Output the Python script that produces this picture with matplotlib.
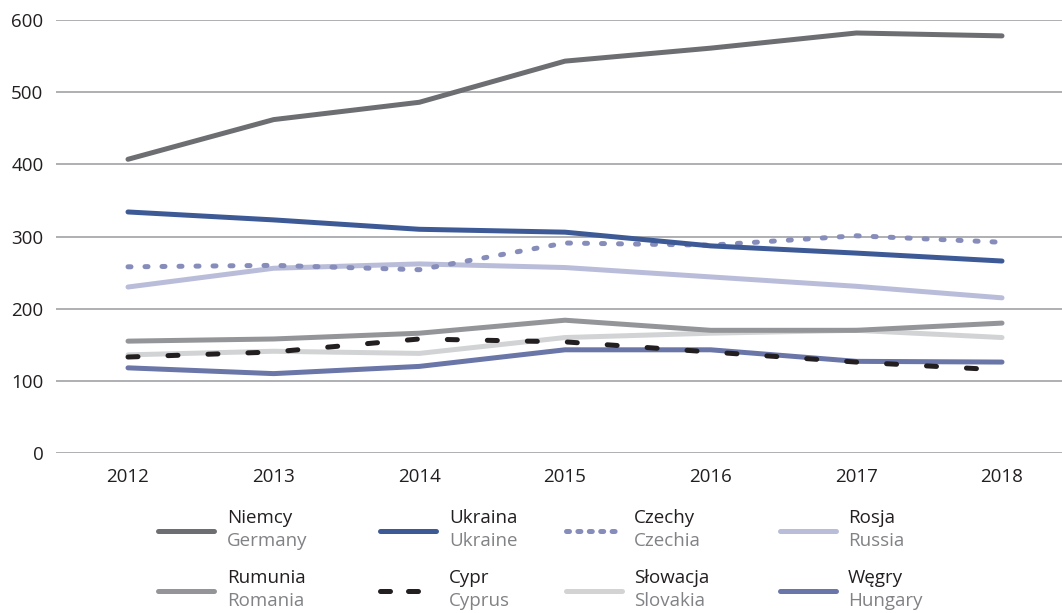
import matplotlib
matplotlib.use('Agg')
import matplotlib.pyplot as plt
from matplotlib.lines import Line2D

plt.rcParams['font.family'] = ['Open Sans', 'DejaVu Sans']

years = [2012, 2013, 2014, 2015, 2016, 2017, 2018]

germany = [407, 462, 486, 543, 561, 582, 578]
ukraine = [334, 323, 310, 306, 287, 277, 266]
czechia = [258, 260, 254, 291, 288, 301, 292]
russia = [230, 256, 262, 257, 244, 231, 215]
romania = [155, 158, 166, 184, 170, 170, 180]
cyprus = [133, 140, 158, 154, 140, 126, 115]
slovakia = [136, 141, 138, 160, 166, 170, 160]
hungary = [118, 110, 120, 143, 143, 127, 126]

labels_pl = ['Niemcy', 'Ukraina', 'Czechy', 'Rosja', 'Rumunia', 'Cypr', 'Słowacja', 'Węgry']
labels_en = ['Germany', 'Ukraine', 'Czechia', 'Russia', 'Romania', 'Cyprus', 'Slovakia', 'Hungary']
yticks = [0, 100, 200, 300, 400, 500, 600]

series = [germany, ukraine, czechia, russia, romania, cyprus, slovakia, hungary]
colors = ['#6d6e71', '#3d5a96', '#878dba', '#b9bdd9', '#939598', '#231f20', '#d1d3d4', '#6a75a8']
dashes = [None, None, (0.6, 2.8), None, None, (2.0, 6.0), None, None]
zorders = [5, 5, 4, 3, 3, 6, 2, 4]

fig = plt.figure(figsize=(10.62, 6.13), dpi=100)
ax = fig.add_axes([56 / 1062, 1 - 453 / 613, 1 - 56 / 1062, (453 - 20) / 613])

lw = 3.6
for vals, c, d, z in zip(series, colors, dashes, zorders):
    ln, = ax.plot(years, vals, color=c, lw=lw, solid_capstyle='round',
                  dash_capstyle='round', solid_joinstyle='round', zorder=z)
    if d is not None:
        ln.set_dashes(d)

ax.set_xlim(2012 - 72 / 145.67, 2018 + 60 / 145.67)
ax.set_ylim(0, 600)
ax.set_yticks(yticks)
ax.set_xticks(years)
ax.yaxis.grid(True, color='#a7a9ac', lw=1.3)
ax.set_axisbelow(True)
for s in ax.spines.values():
    s.set_visible(False)
ax.tick_params(length=0, labelsize=13.5, colors='#231f20')
ax.tick_params(axis='y', pad=9)
ax.tick_params(axis='x', pad=11)

# legend drawn by hand: 4 columns x 2 rows, two-line labels
col_line_x = [158, 380, 566, 780]
col_text_x = [227, 449, 634, 848]
row_line_y = [531, 591]
row_text_y = [518, 578]
W, H = 1062, 613
for i in range(8):
    r, c = divmod(i, 4)
    x0 = col_line_x[c]
    y = 1 - row_line_y[r] / H
    ln = Line2D([x0 / W, (x0 + 56) / W], [y, y], transform=fig.transFigure,
                color=colors[i], lw=lw, solid_capstyle='round', dash_capstyle='round')
    if dashes[i] is not None:
        ln.set_dashes((dashes[i][0], dashes[i][1] * 0.6))
    fig.add_artist(ln)
    fig.text(col_text_x[c] / W, 1 - row_text_y[r] / H, labels_pl[i],
             fontsize=13.5, color='#231f20', va='center', ha='left')
    fig.text(col_text_x[c] / W, 1 - (row_text_y[r] + 23) / H, labels_en[i],
             fontsize=13.5, color='#808285', va='center', ha='left')

fig.savefig('out.png', dpi=100)
